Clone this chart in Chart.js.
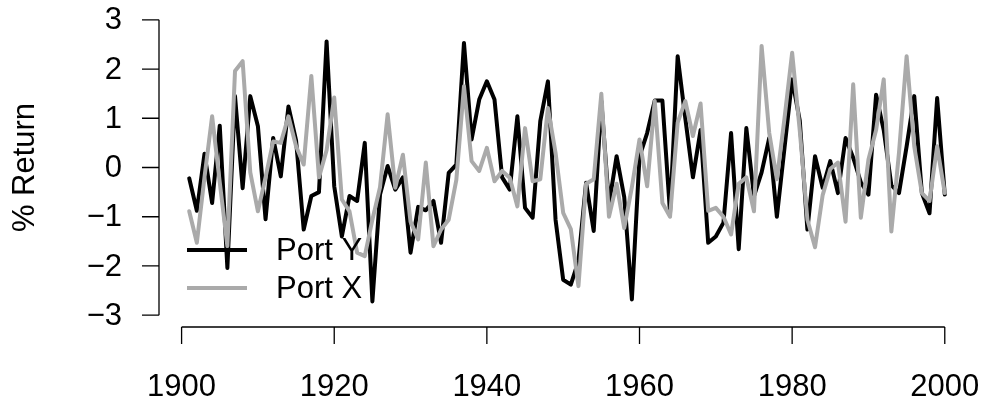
<!DOCTYPE html>
<html>
<head>
<meta charset="utf-8">
<script src="https://cdn.jsdelivr.net/npm/chart.js@4"></script>
<style>
    html, body { margin: 0; padding: 0; background: #ffffff; }
    #wrap { width: 990px; height: 409px; position: relative; }
</style>
</head>
<body>
<div id="wrap"><canvas id="returnChart" width="990" height="409"></canvas></div>
<script>
// Data (tahun 1901 - 2000)
const years = [];
for (let y = 1901; y <= 2000; y++) years.push(y);

const portY = [
    -0.22, -0.88, 0.28, -0.72, 0.85, -2.04, 1.45, -0.42, 1.45, 0.84,
    -1.05, 0.60, -0.18, 1.24, 0.55, -1.26, -0.58, -0.50, 2.56, -0.38,
    -1.40, -0.58, -0.68, 0.50, -2.72, -0.55, 0.03, -0.45, -0.20, -1.73,
    -0.80, -0.87, -0.68, -1.53, -0.11, 0.06, 2.53, 0.57, 1.38, 1.75,
    1.38, -0.20, -0.45, 1.04, -0.82, -1.02, 0.94, 1.75, -1.06, -2.28,
    -2.38, -1.90, -0.31, -1.29, 1.35, -0.75, 0.23, -0.60, -2.68, 0.22,
    0.70, 1.36, 1.36, -0.92, 2.26, 1.00, -0.20, 0.76, -1.53, -1.40,
    -1.12, 0.70, -1.66, 0.80, -0.58, -0.10, 0.60, -1.00, 0.40, 1.79,
    0.95, -1.26, 0.23, -0.41, 0.13, -0.52, 0.60, 0.20, -0.30, -0.55,
    1.48, 0.76, -0.36, -0.52, 0.43, 1.45, -0.52, -0.93, 1.41, -0.55
];

const portX = [
    -0.89, -1.53, -0.20, 1.04, -0.30, -1.60, 1.96, 2.16, -0.10, -0.89,
    -0.20, 0.53, 0.50, 1.04, 0.43, 0.06, 1.86, -0.20, 0.35, 1.42,
    -0.65, -0.89, -1.73, -1.80, -1.06, -0.40, 1.08, -0.41, 0.26, -1.10,
    -1.46, 0.10, -1.60, -1.26, -1.06, -0.25, 1.65, 0.13, -0.07, 0.40,
    -0.28, -0.07, -0.21, -0.79, 0.80, -0.28, -0.24, 1.21, 0.30, -0.92,
    -1.25, -2.41, -0.33, -0.24, 1.50, -1.00, -0.33, -1.23, -0.40, 0.57,
    -0.38, 1.35, -0.72, -1.00, 0.91, 1.35, 0.64, 1.30, -0.88, -0.82,
    -1.00, -1.36, -0.33, -0.20, -0.89, 2.47, 0.70, -0.24, 1.00, 2.33,
    0.75, -1.06, -1.62, -0.56, -0.03, 0.10, -1.10, 1.69, -1.02, 0.16,
    0.76, 1.79, -1.30, 0.30, 2.26, 0.43, -0.52, -0.68, 0.43, -0.52
];

const xTicks = [1900, 1920, 1940, 1960, 1980, 2000];
const yTicks = [-3, -2, -1, 0, 1, 2, 3];
const yTickLabels = ['\u22123', '\u22122', '\u22121', '0', '1', '2', '3'];
const seriesNames = ['Port Y', 'Port X'];
const seriesColors = ['#000000', '#aaaaaa'];

const FONT = "31px 'Liberation Sans', Arial, sans-serif";

// Sumbu gaya R (terlepas dari area plot) + legenda
const rAxesPlugin = {
    id: 'rAxes',
    afterDraw(chart) {
        const ctx = chart.ctx;
        const area = chart.chartArea;
        const xs = chart.scales.x;
        const ys = chart.scales.y;
        const tick = 17;

        ctx.save();
        ctx.strokeStyle = '#000';
        ctx.lineWidth = 1.3;
        ctx.fillStyle = '#000';
        ctx.font = FONT;

        // sumbu y
        const yTop = ys.getPixelForValue(yTicks[yTicks.length - 1]);
        const yBot = ys.getPixelForValue(yTicks[0]);
        ctx.beginPath();
        ctx.moveTo(area.left, yTop);
        ctx.lineTo(area.left, yBot);
        yTicks.forEach(v => {
            const py = ys.getPixelForValue(v);
            ctx.moveTo(area.left - tick, py);
            ctx.lineTo(area.left, py);
        });
        ctx.stroke();
        ctx.textAlign = 'right';
        ctx.textBaseline = 'middle';
        yTicks.forEach((v, i) => {
            ctx.fillText(yTickLabels[i], area.left - 37, ys.getPixelForValue(v) + 1);
        });

        // sumbu x
        const xL = xs.getPixelForValue(xTicks[0]);
        const xR = xs.getPixelForValue(xTicks[xTicks.length - 1]);
        ctx.beginPath();
        ctx.moveTo(xL, area.bottom);
        ctx.lineTo(xR, area.bottom);
        xTicks.forEach(v => {
            const px = xs.getPixelForValue(v);
            ctx.moveTo(px, area.bottom);
            ctx.lineTo(px, area.bottom + tick);
        });
        ctx.stroke();
        ctx.textAlign = 'center';
        ctx.textBaseline = 'middle';
        xTicks.forEach(v => {
            ctx.fillText(String(v), xs.getPixelForValue(v), area.bottom + 60);
        });

        // judul sumbu y
        ctx.save();
        ctx.translate(25, (area.top + area.bottom) / 2);
        ctx.rotate(-Math.PI / 2);
        ctx.fillText('% Return', 0, 0);
        ctx.restore();

        // legenda
        ctx.lineWidth = 4;
        ctx.lineCap = 'butt';
        ctx.textAlign = 'left';
        seriesNames.forEach((name, i) => {
            const ly = 250 + i * 38;
            ctx.strokeStyle = seriesColors[i];
            ctx.beginPath();
            ctx.moveTo(187, ly);
            ctx.lineTo(247, ly);
            ctx.stroke();
            ctx.fillText(name, 276, ly + 1);
        });
        ctx.restore();
    }
};

document.addEventListener('DOMContentLoaded', function() {
    const ctx = document.getElementById('returnChart').getContext('2d');

    new Chart(ctx, {
        type: 'line',
        data: {
            datasets: [
                {
                    label: seriesNames[0],
                    data: years.map((yr, i) => ({ x: yr, y: portY[i] })),
                    borderColor: seriesColors[0],
                    order: 1
                },
                {
                    label: seriesNames[1],
                    data: years.map((yr, i) => ({ x: yr, y: portX[i] })),
                    borderColor: seriesColors[1],
                    order: 0
                }
            ]
        },
        options: {
            responsive: false,
            animation: false,
            layout: {
                padding: { left: 159, right: 15, top: 8, bottom: 82 }
            },
            elements: {
                line: {
                    borderWidth: 4,
                    tension: 0,
                    borderJoinStyle: 'round',
                    borderCapStyle: 'round',
                    fill: false
                },
                point: { radius: 0 }
            },
            plugins: {
                legend: { display: false },
                tooltip: { enabled: false }
            },
            scales: {
                x: { type: 'linear', min: 1897.04, max: 2003.96, display: false },
                y: { type: 'linear', min: -3.24, max: 3.24, display: false }
            }
        },
        plugins: [rAxesPlugin]
    });
});
</script>
</body>
</html>
